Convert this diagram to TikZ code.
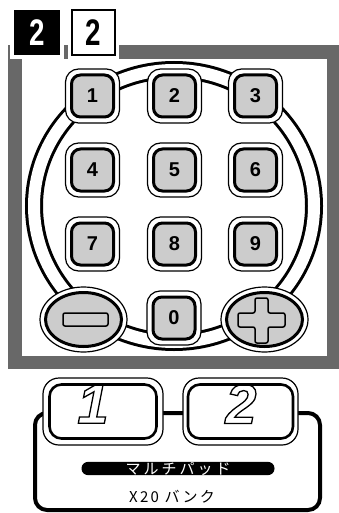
\documentclass[tikz,border=0pt]{standalone}
\usepackage{fontspec}
\setmainfont{Liberation Sans}
\setsansfont{Liberation Sans}
\newfontfamily\jpfont[LetterSpace=20]{Noto Sans CJK JP}
\newfontfamily\jpfontb[LetterSpace=15]{Noto Sans CJK JP}
\newcommand{\hollow}[1]{\special{pdf:literal direct 1 Tr 1.3 w}#1\special{pdf:literal direct 0 Tr}}
\usetikzlibrary{shapes.geometric}
\definecolor{framegray}{RGB}{104,104,104}
\definecolor{keygray}{RGB}{204,204,204}

\begin{document}
\begin{tikzpicture}[
    x=1pt, y=-1pt,
    every node/.style={inner sep=0pt},
    keyrim/.style={draw, fill=white, line width=1.2pt, rounded corners=13pt,
        minimum width=54pt, minimum height=54pt},
    keyface/.style={draw, fill=keygray, line width=3pt, rounded corners=9pt,
        minimum width=42pt, minimum height=42pt,
        font=\sffamily\bfseries\fontsize{20}{20}\selectfont},
    ovalrim/.style={ellipse, draw, fill=white, line width=1.2pt,
        minimum width=87pt, minimum height=65pt},
    ovalface/.style={ellipse, draw, fill=keygray, line width=3pt,
        minimum width=76pt, minimum height=54pt},
    ring/.style={draw, line width=3pt, double=white, double distance=12pt},
    tabfont/.style={font=\sffamily\bfseries\fontsize{37}{37}\selectfont},
    tabblack/.style={tabfont, fill=black, draw=white, line width=4pt, text=white,
        minimum width=50pt, minimum height=49pt},
    tabwhite/.style={tabfont, fill=white, draw=black, line width=1.5pt,
        preaction={draw=white, line width=8pt},
        minimum width=43pt, minimum height=45pt},
    bankrim/.style={draw, fill=white, line width=1.2pt, rounded corners=16pt,
        minimum height=67pt},
    bankface/.style={draw, fill=white, line width=2.6pt, rounded corners=12pt,
        minimum height=54pt},
    bankdigit/.style={text=black, font=\sffamily\bfseries\itshape\fontsize{56}{56}\selectfont},
]
\useasboundingbox (0,0) rectangle (339,513);

% gray frame round the keypad
\fill[framegray] (8,45) rectangle (339,369);
\fill[white] (22,59) rectangle (327,356);

% tabs
\node[tabblack] (tabdark) at (37,32.5) {\scalebox{0.75}[1]{2}};
\node[tabwhite] (tablight) at (93.5,32.5) {\scalebox{0.75}[1]{2}};

% ring behind the keys
\draw[ring] (174,206) ellipse [x radius=140, y radius=136];

% number keys
\foreach \n/\px/\py in {1/92.5/96, 2/174.5/96, 3/255.5/96,
                        4/92.5/170, 5/174.5/170, 6/255.5/170,
                        7/92.5/244, 8/174.5/244, 9/255.5/244,
                        0/174/318} {
  \node[keyrim] (rim\n) at (\px,\py) {};
  \node[keyface] (key\n) at (\px,\py) {\n};
}

% minus and plus
\node[ovalrim] (minusrim) at (83.5,319.5) {};
\node[ovalface] (minuskey) at (83.5,319.5) {};
\node[draw, fill=keygray, line width=1.5pt, rounded corners=2pt,
      minimum width=45pt, minimum height=13pt] (minusbar) at (85.5,319.5) {};
\node[ovalrim] (plusrim) at (264.5,319.5) {};
\node[ovalface] (pluskey) at (264.5,319.5) {};
\draw[fill=keygray, line width=1.5pt, rounded corners=2pt]
  (255,298) -- (268,298) -- (268,313) -- (285,313) -- (285,327) -- (268,327)
  -- (268,343) -- (255,343) -- (255,327) -- (238,327) -- (238,313) -- (255,313) -- cycle;

% bank panel
\node[draw, line width=4pt, rounded corners=12pt,
      minimum width=285pt, minimum height=97pt] (bankpanel) at (177.5,461.5) {};
\node[bankrim, minimum width=120pt] (rimA) at (103,411.5) {};
\node[bankface, minimum width=107pt] (bankA) at (103,411.5) {};
\node[bankrim, minimum width=115pt] (rimB) at (240.5,411.5) {};
\node[bankface, minimum width=105pt] (bankB) at (240.5,411.5) {};
\node[bankdigit] (digitA) at (93,404) {\hollow{1}};
\node[bankdigit] (digitB) at (241,404) {\hollow{2}};

% labels
\node[fill=black, rounded corners=6.5pt, minimum width=193pt, minimum height=13pt,
      text=white, font=\jpfont\fontsize{15}{15}\selectfont] (padtag) at (178,468.5) {マルチパッド};
\node[font=\jpfontb\fontsize{15}{15}\selectfont] (banktag) at (172,497) {X20 バンク};
\end{tikzpicture}
\end{document}
